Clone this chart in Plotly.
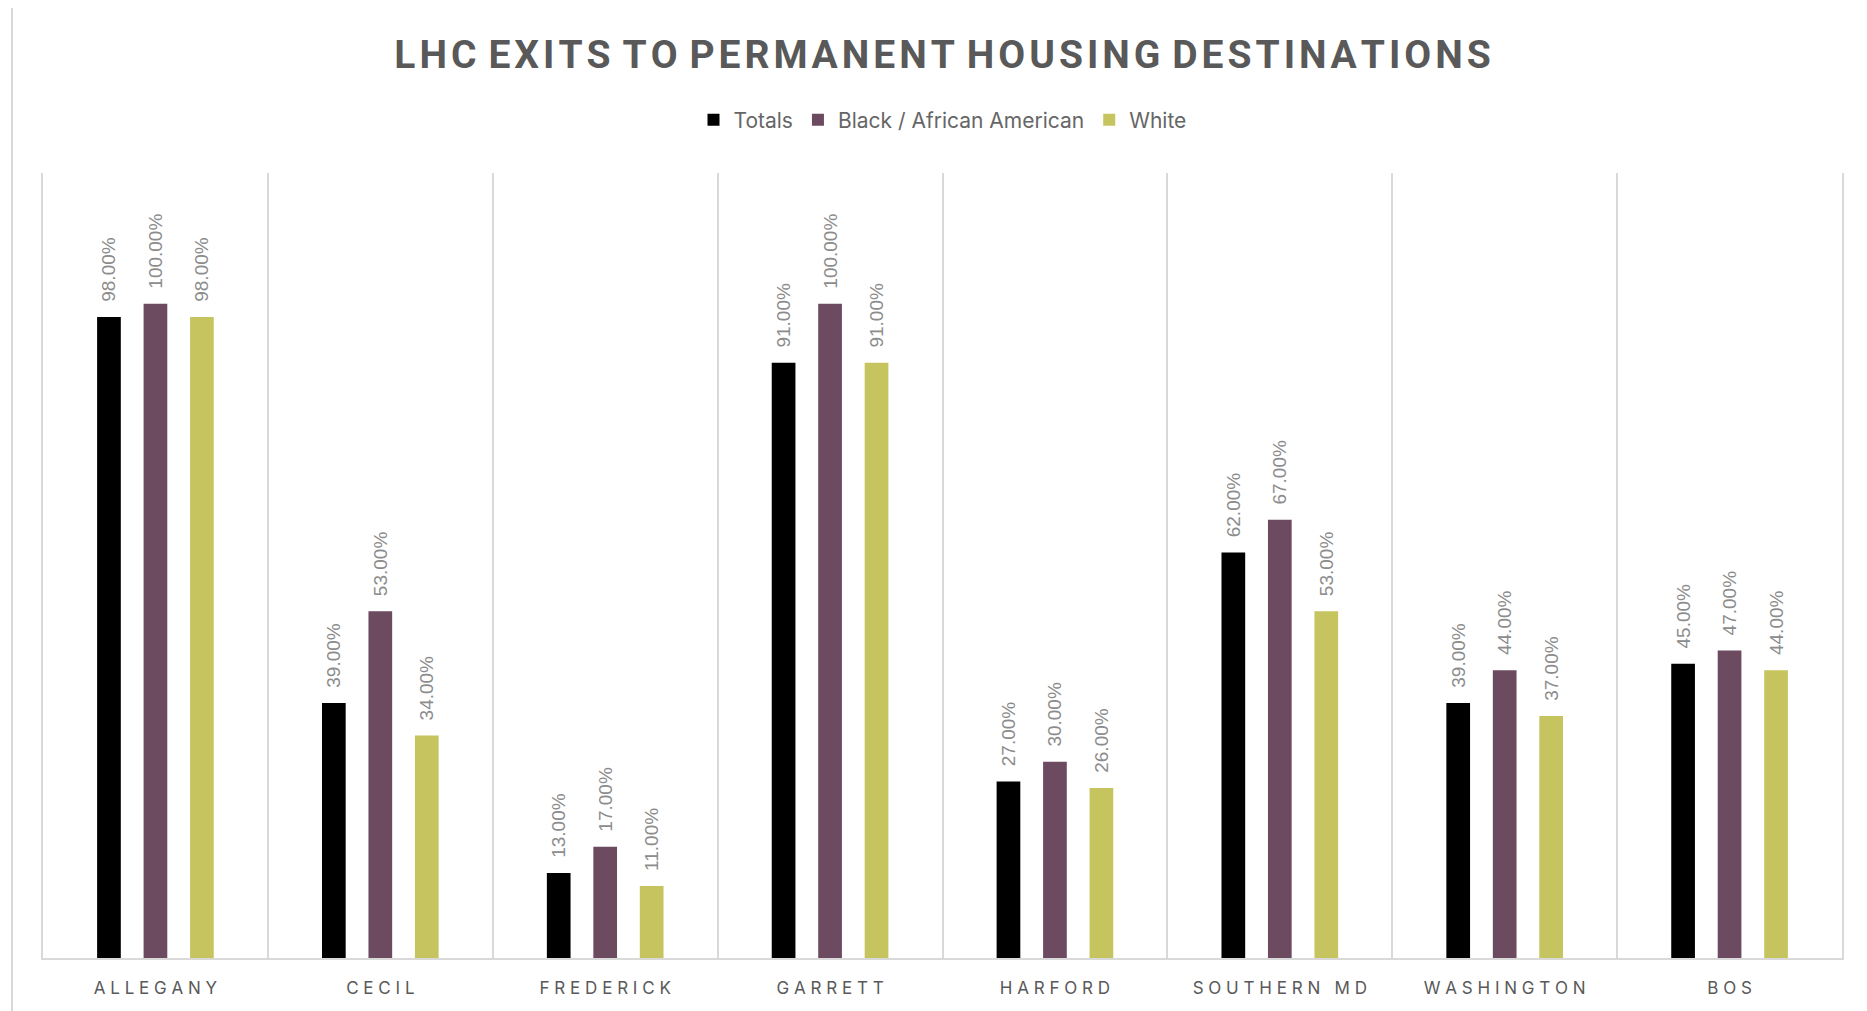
import plotly.graph_objects as go

categories = ["ALLEGANY", "CECIL", "FREDERICK", "GARRETT", "HARFORD", "SOUTHERN MD", "WASHINGTON", "BOS"]
series_names = ["Totals", "Black / African American", "White"]
totals = [0.98, 0.39, 0.13, 0.91, 0.27, 0.62, 0.39, 0.45]
black_aa = [1.00, 0.53, 0.17, 1.00, 0.30, 0.67, 0.44, 0.47]
white = [0.98, 0.34, 0.11, 0.91, 0.26, 0.53, 0.37, 0.44]
colors = ["#000000", "#6C4A60", "#C6C45E"]

# page body has an 8px margin; figure coordinates are offset accordingly
OFF = 8
W, H = 1859, 1003
L, T = 43 - OFF, 173 - OFF
PR, PB = 1842 - OFF, 958 - OFF
R, B = W - PR, H - PB
PW, PH = PR - L, PB - T


def spaced(s):
    words = s.split(" ")
    return "\u00a0\u00a0\u00a0".join("\u00a0".join(list(w)) for w in words)


tick_text = [spaced(c) for c in categories]

fig = go.Figure()
for name, vals, col in zip(series_names, [totals, black_aa, white], colors):
    fig.add_trace(go.Bar(
        x=categories, y=vals, name=name, marker=dict(color=col, line=dict(width=0)),
        text=["\u00a0\u00a0\u200a" + f"{v*100:.2f}%" for v in vals], textposition="outside", textangle=-90,
        constraintext="none",
        textfont=dict(family="Liberation Sans", size=19, color="#8C8C8C"),
        cliponaxis=False,
    ))

title_words = "LHC EXITS TO PERMANENT HOUSING DESTINATIONS".split(" ")
title_txt = "\u2009\u200a".join("\u200a".join(list(w)) for w in title_words)

fig.update_layout(
    width=W, height=H,
    margin=dict(l=L, r=R, t=T, b=B),
    paper_bgcolor="white", plot_bgcolor="white",
    barmode="group", bargap=0.38, bargroupgap=0.49,
    title=dict(text=f"<b>{title_txt}</b>", x=(L + PW / 2) / W, xanchor="center",
               y=1 - (54 - OFF) / H, yanchor="middle", yref="container",
               font=dict(family="Roboto", size=39, color="#595959")),
    legend=dict(orientation="h", x=0.5, xanchor="center", y=1 - (120 - OFF) / H, yanchor="middle",
                yref="container", font=dict(family="Inter", size=21, color="#666666"),
                itemwidth=30, tracegroupgap=0),
    xaxis=dict(tickmode="array", tickvals=categories, ticktext=tick_text,
               tickson="boundaries", showgrid=True, gridcolor="#D9D9D9", gridwidth=2,
               showline=True, linecolor="#D9D9D9", linewidth=2, ticks="",
               ticklabelstandoff=14,
               tickfont=dict(family="Inter", size=17, color="#595959")),
    yaxis=dict(range=[0, 1.2], showgrid=False, zeroline=False, showticklabels=False,
               showline=True, mirror=True, linecolor="#D9D9D9", linewidth=2),
    shapes=[dict(type="rect", xref="paper", yref="paper",
                 x0=(12 - OFF - L) / PW, x1=(W + 20 - L) / PW,
                 y0=(PB - (H + 20)) / PH, y1=(PB - (6 - OFF)) / PH,
                 line=dict(color="#D9D9D9", width=2), fillcolor="rgba(0,0,0,0)", layer="below")],
)
fig.write_html("out.html")
